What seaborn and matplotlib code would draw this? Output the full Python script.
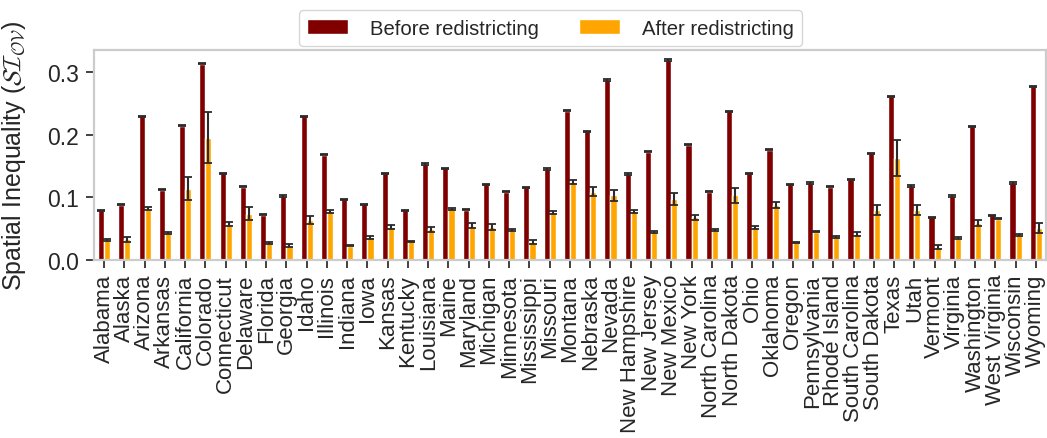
import numpy as np
import pandas as pd
import matplotlib
matplotlib.use("Agg")
import matplotlib.pyplot as plt
import seaborn as sns

# Spatial inequality per state, before and after redistricting
states = [
    "Alabama", "Alaska", "Arizona", "Arkansas", "California", "Colorado",
    "Connecticut", "Delaware", "Florida", "Georgia", "Idaho", "Illinois",
    "Indiana", "Iowa", "Kansas", "Kentucky", "Louisiana", "Maine", "Maryland",
    "Michigan", "Minnesota", "Mississippi", "Missouri", "Montana", "Nebraska",
    "Nevada", "New Hampshire", "New Jersey", "New Mexico", "New York",
    "North Carolina", "North Dakota", "Ohio", "Oklahoma", "Oregon",
    "Pennsylvania", "Rhode Island", "South Carolina", "South Dakota", "Texas",
    "Utah", "Vermont", "Virginia", "Washington", "West Virginia", "Wisconsin",
    "Wyoming",
]

before = [
    0.079, 0.088, 0.229, 0.112, 0.214, 0.313,
    0.138, 0.117, 0.072, 0.102, 0.229, 0.168,
    0.097, 0.089, 0.138, 0.079, 0.153, 0.146, 0.080,
    0.121, 0.109, 0.116, 0.145, 0.238, 0.205,
    0.287, 0.137, 0.173, 0.319, 0.184,
    0.109, 0.237, 0.138, 0.176, 0.121,
    0.123, 0.117, 0.129, 0.170, 0.261,
    0.118, 0.068, 0.102, 0.213, 0.071, 0.123,
    0.277,
]
before_err = [
    0.001, 0.001, 0.001, 0.001, 0.001, 0.001,
    0.001, 0.001, 0.001, 0.001, 0.001, 0.001,
    0.001, 0.001, 0.001, 0.001, 0.001, 0.001, 0.001,
    0.001, 0.001, 0.001, 0.001, 0.001, 0.001,
    0.001, 0.001, 0.001, 0.001, 0.001,
    0.001, 0.001, 0.001, 0.001, 0.001,
    0.001, 0.001, 0.001, 0.001, 0.001,
    0.001, 0.001, 0.001, 0.001, 0.001, 0.001,
    0.001,
]

after = [
    0.032, 0.033, 0.082, 0.043, 0.114, 0.195,
    0.057, 0.074, 0.027, 0.023, 0.064, 0.077,
    0.023, 0.036, 0.053, 0.030, 0.049, 0.081, 0.055,
    0.053, 0.048, 0.029, 0.076, 0.124, 0.109,
    0.103, 0.077, 0.045, 0.097, 0.068,
    0.048, 0.103, 0.052, 0.088, 0.028,
    0.045, 0.037, 0.041, 0.080, 0.163,
    0.080, 0.021, 0.035, 0.059, 0.066, 0.040,
    0.051,
]
after_err = [
    0.002, 0.004, 0.003, 0.002, 0.018, 0.041,
    0.003, 0.011, 0.002, 0.002, 0.006, 0.002,
    0.001, 0.002, 0.003, 0.001, 0.004, 0.002, 0.004,
    0.005, 0.002, 0.003, 0.002, 0.003, 0.007,
    0.009, 0.002, 0.002, 0.010, 0.0045,
    0.002, 0.012, 0.002, 0.0045, 0.001,
    0.001, 0.002, 0.003, 0.0075, 0.029,
    0.0085, 0.003, 0.002, 0.004, 0.001, 0.002,
    0.008,
]

series_names = ["Before redistricting", "After redistricting"]
series_colors = ["#800000", "#FFA500"]

df = pd.concat([
    pd.DataFrame({"State": states, "Value": before, "Err": before_err,
                  "Period": series_names[0]}),
    pd.DataFrame({"State": states, "Value": after, "Err": after_err,
                  "Period": series_names[1]}),
], ignore_index=True)

sns.set_theme(style="whitegrid")
plt.rcParams["font.family"] = ["Liberation Sans", "DejaVu Sans"]
plt.rcParams["mathtext.fontset"] = "cm"

fig = plt.figure(figsize=(10.47, 4.39), dpi=100)
ax = fig.add_axes([0.0898, 0.4055, 0.9092, 0.4783])

sns.barplot(data=df, x="State", y="Value", hue="Period",
            palette=series_colors, width=0.6, errorbar=None,
            saturation=1, ax=ax, legend=True)

# error bars placed on the bar centres produced by seaborn
for container, name in zip(ax.containers, series_names):
    sub = df[df["Period"] == name]
    xs = [p.get_x() + p.get_width() / 2 for p in container.patches]
    ax.errorbar(xs, sub["Value"].values, yerr=sub["Err"].values,
                fmt="none", ecolor="#2b2b2b", elinewidth=1.5,
                capsize=3.2, capthick=1.3, zorder=5)

ax.set_xlim(-0.5, len(states) - 0.5)
ax.set_ylim(0, 0.335)
ax.set_yticks([0.0, 0.1, 0.2, 0.3])
ax.set_xlabel("")
ax.set_ylabel(r"Spatial Inequality ($\mathcal{SI}_{\mathcal{OV}}$)",
              fontsize=18, color="#262626")
ax.yaxis.set_label_coords(-0.069, 0.5)
ax.grid(False)

for side in ["left", "right", "top", "bottom"]:
    ax.spines[side].set_color("#cccccc")
    ax.spines[side].set_linewidth(1.6)

ax.tick_params(axis="x", rotation=90, labelsize=16, length=6, width=1.3,
               color="#333333", labelcolor="#262626", bottom=True, pad=4)
ax.tick_params(axis="y", labelsize=16.5, length=6, width=1.3,
               color="#333333", labelcolor="#262626", left=True, pad=5)

handles, labels = ax.get_legend_handles_labels()
ax.get_legend().remove()
fig.legend(handles, labels, loc="upper center",
           bbox_to_anchor=(0.526, 0.997), bbox_transform=fig.transFigure,
           ncol=2, fontsize=14.6, frameon=True, handletextpad=1.1,
           columnspacing=2.0, borderpad=0.4)

fig.savefig("out.png", dpi=100)
